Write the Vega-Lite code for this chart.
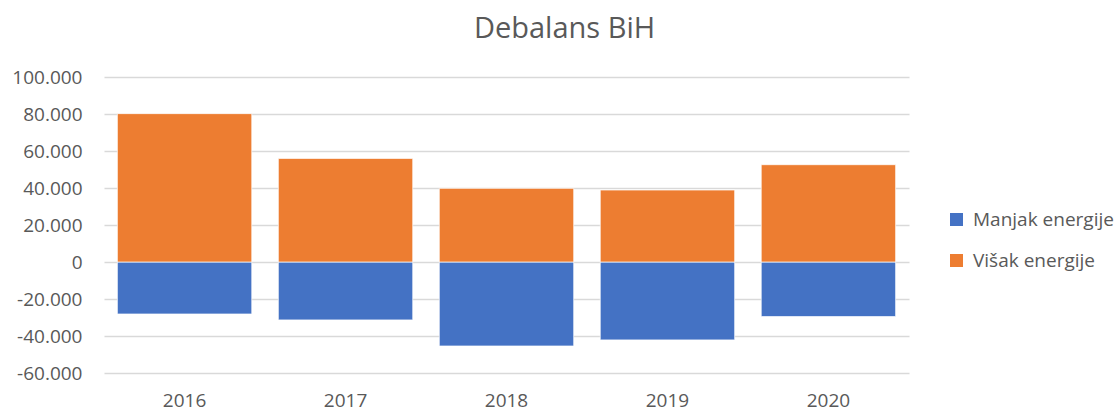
{
  "$schema": "https://vega.github.io/schema/vega-lite/v6.json",
  "autosize": "none",
  "width": 805,
  "height": 296,
  "padding": {"left": 104, "top": 77, "right": 206, "bottom": 39},
  "background": "white",
  "config": {
    "view": {"stroke": null},
    "font": "Open Sans",
    "locale": {"number": {"decimal": ",", "thousands": ".", "grouping": [3], "currency": ["", ""], "minus": "-"}}
  },
  "title": {"text": "Debalans BiH", "fontSize": 29, "fontWeight": "normal", "color": "#595959", "font": "Open Sans", "anchor": "middle", "dx": 58, "offset": 24},
  "data": {"values": [
    {"year": "2016", "serija": "Manjak energije", "v": -28100},
    {"year": "2016", "serija": "Višak energije", "v": 80200},
    {"year": "2017", "serija": "Manjak energije", "v": -31300},
    {"year": "2017", "serija": "Višak energije", "v": 56000},
    {"year": "2018", "serija": "Manjak energije", "v": -45400},
    {"year": "2018", "serija": "Višak energije", "v": 39800},
    {"year": "2019", "serija": "Manjak energije", "v": -42100},
    {"year": "2019", "serija": "Višak energije", "v": 38900},
    {"year": "2020", "serija": "Manjak energije", "v": -29500},
    {"year": "2020", "serija": "Višak energije", "v": 52600}
  ]},
  "mark": {"type": "bar", "stroke": "white", "strokeWidth": 0.7},
  "encoding": {
    "x": {"field": "year", "type": "nominal", "title": null,
      "scale": {"paddingInner": 0.165, "paddingOuter": 0.083},
      "axis": {"orient": "bottom", "labelAngle": 0, "domain": false, "ticks": false, "labelPadding": 18, "labelFontSize": 19, "labelColor": "#595959", "labelFont": "Open Sans"}},
    "y": {"field": "v", "type": "quantitative", "title": null, "stack": "zero",
      "scale": {"domain": [-60000, 100000], "nice": false},
      "axis": {"values": [-60000, -40000, -20000, 0, 20000, 40000, 60000, 80000, 100000], "format": ",d", "domain": false, "ticks": false, "labelPadding": 22, "labelFontSize": 19, "labelColor": "#595959", "labelFont": "Open Sans", "gridColor": "#d9d9d9", "gridWidth": 1.3}},
    "color": {"field": "serija", "type": "nominal", "title": null,
      "scale": {"domain": ["Manjak energije", "Višak energije"], "range": ["#4472C4", "#ED7D31"]},
      "legend": {"orient": "none", "legendX": 843, "legendY": 133, "symbolType": "square", "symbolSize": 169, "symbolStrokeWidth": 0, "labelFontSize": 19, "labelColor": "#595959", "labelFont": "Open Sans", "rowPadding": 21, "labelOffset": 7}}
  }
}
